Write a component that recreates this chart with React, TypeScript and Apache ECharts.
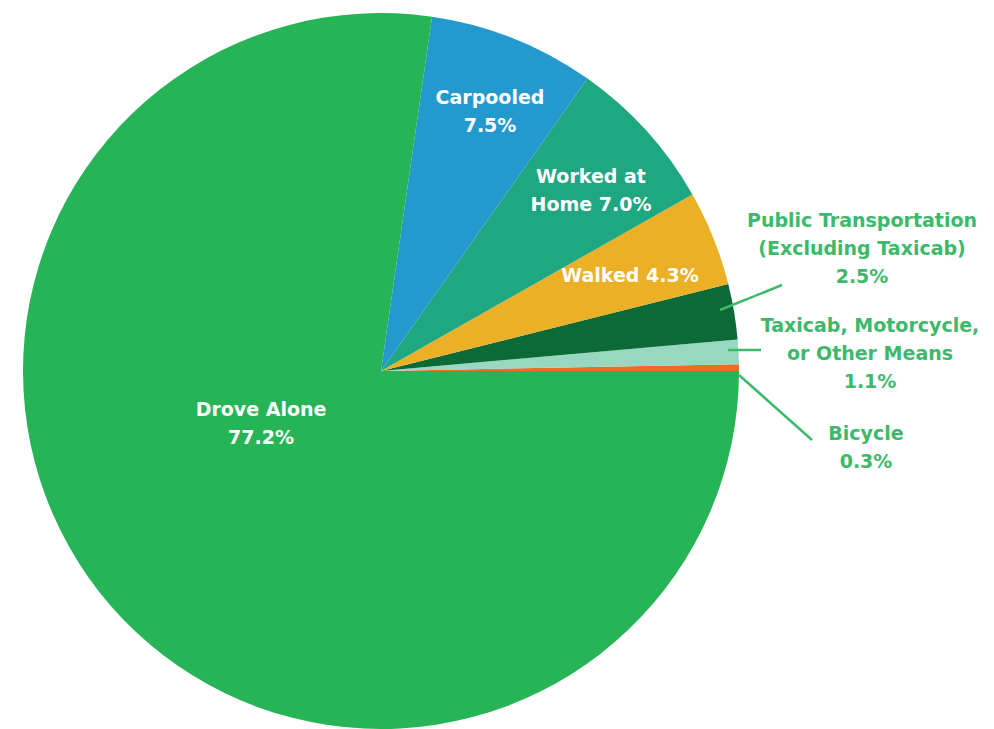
import React, { useEffect, useRef } from "react";
import * as echarts from "echarts";

const categories = [
  "Bicycle",
  "Taxicab, Motorcycle,\nor Other Means",
  "Public Transportation\n(Excluding Taxicab)",
  "Walked",
  "Worked at\nHome",
  "Carpooled",
  "Drove Alone",
];
const values = [0.3, 1.1, 2.5, 4.3, 7.0, 7.5, 77.2];
const separators = ["\n", "\n", "\n", " ", " ", "\n", "\n"];
const colors = ["#f26b22", "#98d8c0", "#0c6a36", "#ebb025", "#1fa781", "#2499cd", "#26b457"];
const outside = [true, true, true, false, false, false, false];

// label anchor positions (px) and leader lines (style/layout only)
const labelPos: [number, number][] = [
  [866, 447],
  [870, 353],
  [862, 248],
  [630, 275],
  [591, 190],
  [490, 111],
  [261, 423],
];
const leaderLines: ([number, number][] | null)[] = [
  [[739, 375], [812, 440]],
  [[728, 350], [761, 350]],
  [[720, 310], [782, 285]],
  null,
  null,
  null,
  null,
];

const FONT = "'DejaVu Sans', 'Open Sans', sans-serif";
const OUT_COLOR = "#3cb96a";

export default function App() {
  const ref = useRef<HTMLDivElement>(null);
  useEffect(() => {
    if (!ref.current) return;
    const chart = echarts.init(ref.current, null, { renderer: "svg" });
    const sectorData = categories.map((name, i) => ({
      name,
      value: values[i],
      itemStyle: { color: colors[i] },
    }));
    const labelData = categories.map((name, i) => ({
      name,
      value: values[i],
      itemStyle: { color: "rgba(0,0,0,0)" },
      label: {
        show: true,
        position: outside[i] ? "outside" : "inside",
        color: outside[i] ? OUT_COLOR : "#ffffff",
        formatter: () => `${name}${separators[i]}${values[i].toFixed(1)}%`,
      },
      labelLine: {
        show: outside[i],
        lineStyle: { color: OUT_COLOR, width: 2.5 },
      },
    }));
    const common = {
      type: "pie",
      center: [381, 371],
      radius: [0, 358],
      startAngle: 0,
      clockwise: false,
      avoidLabelOverlap: false,
      emphasis: { disabled: true },
    };
    chart.setOption({
      animation: false,
      backgroundColor: "#ffffff",
      series: [
        {
          ...common,
          z: 2,
          itemStyle: { borderWidth: 0 },
          label: { show: false },
          labelLine: { show: false },
          data: sectorData,
        },
        {
          ...common,
          z: 3,
          silent: true,
          itemStyle: { borderWidth: 0 },
          label: {
            fontFamily: FONT,
            fontWeight: "bold",
            fontSize: 19,
            lineHeight: 28,
            align: "center",
          },
          labelLayout: (params: any) => {
            const i = params.dataIndex;
            const res: any = {
              x: labelPos[i][0],
              y: labelPos[i][1],
              align: "center",
              verticalAlign: "middle",
            };
            if (leaderLines[i]) res.labelLinePoints = leaderLines[i];
            return res;
          },
          data: labelData,
        },
      ],
    });
    return () => chart.dispose();
  }, []);
  return (
    <div
      ref={ref}
      style={{ position: "absolute", left: 0, top: 0, width: 994, height: 729 }}
    />
  );
}
